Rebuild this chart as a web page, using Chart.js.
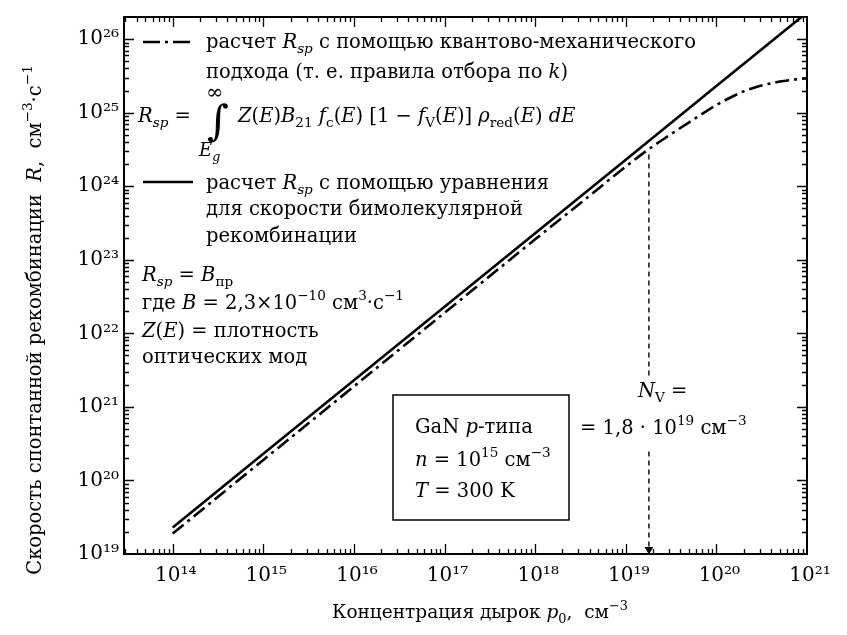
<!DOCTYPE html>
<html><head><meta charset="utf-8">
<script src="https://cdn.jsdelivr.net/npm/chart.js@4/dist/chart.umd.min.js"></script>
<style>html,body{margin:0;padding:0;background:#fff}canvas{display:block}</style>
</head><body>
<canvas id="c" width="847" height="635"></canvas>
<script>
// ---- data ----
const holeConc = [1e14, 1e15, 1e16, 1e17, 1e18, 1e19, 1e20, 1e21];
const rateBimolecular = [2.3e19, 2.3e20, 2.3e21, 2.3e22, 2.3e23, 2.3e24, 2.3e25, 2.3e26];
const holeConcQM = [1e14, 1e15, 1e16, 1e17, 1e18, 3e18, 1e19, 1.8e19, 3e19, 5e19, 1e20, 2e20, 3e20, 5e20, 1e21];
const rateQM = [1.9e19, 1.9e20, 1.9e21, 1.9e22, 1.9e23, 5.6e23, 1.85e24, 3.2e24, 4.9e24, 7.4e24, 1.27e25, 1.95e25, 2.3e25, 2.65e25, 2.95e25];
const nvMarkerConc = [1.8e19, 1.8e19];
const nvMarkerRate = [2.7e24, 1.15e19];
const xTickExponents = [14, 15, 16, 17, 18, 19, 20, 21];
const yTickExponents = [19, 20, 21, 22, 23, 24, 25, 26];
const xMin = 2.9e13, xMax = 1e21, yMin = 1e19, yMax = 2e26;

const FONT = '"DejaVu Serif"';
const SUP = {'0':'⁰','1':'¹','2':'²','3':'³','4':'⁴','5':'⁵','6':'⁶','7':'⁷','8':'⁸','9':'⁹','-':'⁻'};
const sup = s => String(s).split('').map(c => SUP[c] || c).join('');

function logTicks(min, max) {
  const out = [];
  for (let e = Math.floor(Math.log10(min)); e <= Math.ceil(Math.log10(max)); e++) {
    for (let m = 1; m <= 9; m++) {
      const v = m * Math.pow(10, e);
      if (v >= min * 0.999 && v <= max * 1.001) out.push({value: v, major: m === 1});
    }
  }
  return out;
}
function expLabel(v, exps) {
  const e = Math.round(Math.log10(v));
  if (Math.abs(Math.log10(v) - e) < 1e-6 && exps.includes(e)) return '10' + sup(e);
  return '';
}

// rich text: segments are strings or [text, flags] with flags i=italic, b=subscript, p=superscript
function rich(ctx, x, y, segs, size, align, clearBg) {
  const parts = segs.map(s => typeof s === 'string' ? {t: s, f: ''} : {t: s[0], f: s[1] || ''});
  const fontOf = p => (p.f.includes('i') ? 'italic ' : '') + ((p.f.includes('b') || p.f.includes('p')) ? (size * 0.7).toFixed(1) : size) + 'px ' + FONT;
  let total = 0;
  parts.forEach(p => { ctx.font = fontOf(p); p.w = ctx.measureText(p.t).width; total += p.w; });
  let cx = align === 'center' ? x - total / 2 : (align === 'right' ? x - total : x);
  if (clearBg) { ctx.fillStyle = '#fff'; ctx.fillRect(cx - 3, y - size * 1.05, total + 6, size * 1.4); }
  ctx.textAlign = 'left'; ctx.textBaseline = 'alphabetic'; ctx.fillStyle = '#000';
  parts.forEach(p => {
    ctx.font = fontOf(p);
    const dy = p.f.includes('b') ? size * 0.28 : (p.f.includes('p') ? -size * 0.45 : 0);
    ctx.fillText(p.t, cx, y + dy);
    cx += p.w;
  });
  return total;
}

const decor = {
  id: 'decor',
  afterDraw(chart) {
    const ctx = chart.ctx, a = chart.chartArea;
    const xs = chart.scales.x, ys = chart.scales.y;
    ctx.save();
    ctx.strokeStyle = '#000'; ctx.lineWidth = 2; ctx.setLineDash([]);
    ctx.strokeRect(a.left, a.top, a.right - a.left, a.bottom - a.top);
    ctx.lineWidth = 1.3;
    ctx.beginPath();
    xs.ticks.forEach(t => {
      const px = Math.round(xs.getPixelForValue(t.value)) + 0.5;
      if (px < a.left + 1 || px > a.right - 1) return;
      const L = t.major ? 10 : 5;
      ctx.moveTo(px, a.bottom); ctx.lineTo(px, a.bottom - L);
      ctx.moveTo(px, a.top); ctx.lineTo(px, a.top + L);
    });
    ys.ticks.forEach(t => {
      const py = Math.round(ys.getPixelForValue(t.value)) + 0.5;
      if (py < a.top + 1 || py > a.bottom - 1) return;
      const L = t.major ? 10 : 5;
      ctx.moveTo(a.left, py); ctx.lineTo(a.left + L, py);
      ctx.moveTo(a.right, py); ctx.lineTo(a.right - L, py);
    });
    ctx.stroke();

    // legend samples
    ctx.lineWidth = 2.6;
    ctx.setLineDash([17, 5, 3, 5]);
    ctx.beginPath(); ctx.moveTo(143, 42); ctx.lineTo(193, 42); ctx.stroke();
    ctx.setLineDash([]);
    ctx.beginPath(); ctx.moveTo(143, 182); ctx.lineTo(193, 182); ctx.stroke();

    const S = 19.5;
    rich(ctx, 206, 48, ['расчет ', ['R', 'i'], ['sp', 'ib'], ' с помощью квантово-механического'], S);
    rich(ctx, 206, 78, ['подхода (т. е. правила отбора по ', ['k', 'i'], ')'], S);
    rich(ctx, 138, 122, [['R', 'i'], ['sp', 'ib'], ' = '], S);
    ctx.font = '42px ' + FONT; ctx.fillText('∫', 207, 135);
    rich(ctx, 206, 99, ['∞'], 21);
    rich(ctx, 199, 156, [['E', 'i'], ['g', 'ib']], 18);
    rich(ctx, 238, 122, [['Z', 'i'], '(', ['E', 'i'], ')', ['B', 'i'], ['21', 'b'], ' ', ['f', 'i'], ['c', 'b'], '(', ['E', 'i'], ') [1 − ', ['f', 'i'], ['V', 'b'], '(', ['E', 'i'], ')] ', ['ρ', 'i'], ['red', 'b'], '(', ['E', 'i'], ') ', ['dE', 'i']], S);
    rich(ctx, 206, 189, ['расчет ', ['R', 'i'], ['sp', 'ib'], ' с помощью уравнения'], S);
    rich(ctx, 206, 215, ['для скорости бимолекулярной'], S);
    rich(ctx, 206, 242, ['рекомбинации'], S);
    rich(ctx, 142, 281, [['R', 'i'], ['sp', 'ib'], ' = ', ['B', 'i'], ['пр', 'b']], S);
    rich(ctx, 142, 309, ['где ', ['B', 'i'], ' = 2,3×10', ['−10', 'p'], ' см', ['3', 'p'], '·с', ['−1', 'p']], S);
    rich(ctx, 142, 337, [['Z', 'i'], '(', ['E', 'i'], ') = плотность'], S);
    rich(ctx, 142, 363, ['оптических мод'], S);

    // box
    ctx.lineWidth = 1.5;
    ctx.strokeRect(393, 395, 176, 125);
    rich(ctx, 415, 433, ['GaN ', ['p', 'i'], '-типа'], S);
    rich(ctx, 415, 466, [['n', 'i'], ' = 10', ['15', 'p'], ' см', ['−3', 'p']], S);
    rich(ctx, 415, 497, [['T', 'i'], ' = 300 K'], S);

    // N_V label (covers the dashed marker line behind it)
    ctx.fillStyle = '#fff'; ctx.fillRect(630, 378, 40, 70);
    rich(ctx, 638, 397, [['N', 'i'], ['V', 'b'], ' ='], S, 'left', true);
    rich(ctx, 580, 434, ['= 1,8 · 10', ['19', 'p'], ' см', ['−3', 'p']], S, 'left', true);

    // axis titles
    rich(ctx, 480, 618, ['Концентрация дырок ', ['p', 'i'], ['0', 'b'], ',  см', ['−3', 'p']], 18.5, 'center');
    ctx.translate(41, 320); ctx.rotate(-Math.PI / 2);
    rich(ctx, 0, 0, ['Скорость спонтанной рекомбинации  ', ['R', 'i'], ',  см', ['−3', 'p'], '·с', ['−1', 'p']], S, 'center');
    ctx.restore();
  }
};

new Chart(document.getElementById('c'), {
  type: 'line',
  data: {
    datasets: [
      {label: 'бимолекулярная', data: holeConc.map((p, i) => ({x: p, y: rateBimolecular[i]})),
       borderColor: '#000', borderWidth: 2.6, pointRadius: 0, fill: false},
      {label: 'квантово-механический', data: holeConcQM.map((p, i) => ({x: p, y: rateQM[i]})),
       borderColor: '#000', borderWidth: 2.6, borderDash: [14, 5, 3, 5], pointRadius: 0, fill: false,
       cubicInterpolationMode: 'monotone'},
      {label: 'N_V', data: nvMarkerConc.map((p, i) => ({x: p, y: nvMarkerRate[i]})),
       borderColor: '#000', borderWidth: 1.4, borderDash: [5, 4], pointRadius: [0, 5],
       pointStyle: 'triangle', rotation: 180, pointBackgroundColor: '#000', pointBorderWidth: 0, fill: false}
    ]
  },
  options: {
    responsive: false, animation: false, devicePixelRatio: 1,
    layout: {padding: {top: 15, right: 40, left: 0, bottom: 0}},
    plugins: {legend: {display: false}, tooltip: {enabled: false}},
    scales: {
      x: {type: 'logarithmic', min: xMin, max: xMax,
          grid: {display: false, drawTicks: false}, border: {display: true, color: '#000', width: 2},
          afterBuildTicks: s => { s.ticks = logTicks(xMin, xMax); },
          afterFit: s => { s.height = 81; },
          ticks: {autoSkip: false, maxRotation: 0, minRotation: 0, padding: 10, labelOffset: 3, color: '#000',
                  font: {family: 'DejaVu Serif', size: 20},
                  callback: v => expLabel(v, xTickExponents)}},
      y: {type: 'logarithmic', min: yMin, max: yMax,
          grid: {display: false, drawTicks: false}, border: {display: true, color: '#000', width: 2},
          afterBuildTicks: s => { s.ticks = logTicks(yMin, yMax); },
          afterFit: s => { s.width = 124; },
          ticks: {autoSkip: false, padding: 5, color: '#000',
                  font: {family: 'DejaVu Serif', size: 20},
                  callback: v => expLabel(v, yTickExponents)}}
    }
  },
  plugins: [decor]
});
</script>
</body></html>
